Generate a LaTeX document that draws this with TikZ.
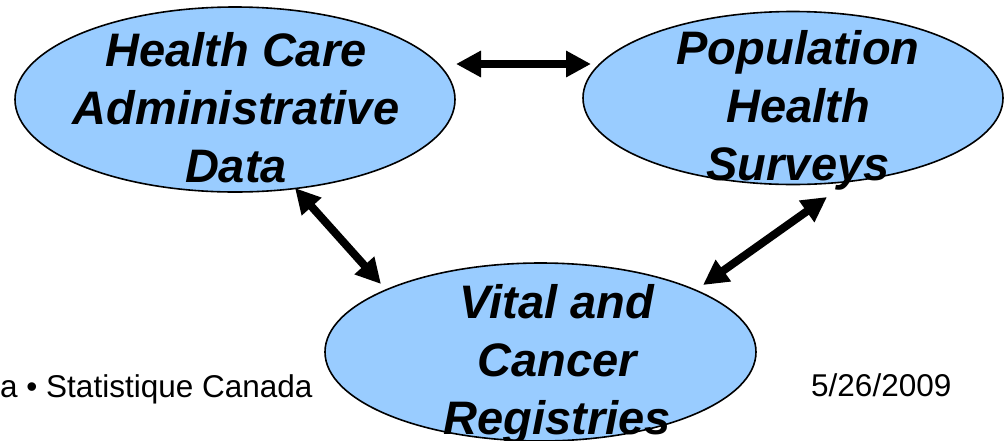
\documentclass[tikz,border=0pt]{standalone}
\usepackage{fontspec}
\setmainfont{Liberation Sans}
\usetikzlibrary{shapes.geometric,arrows.meta}
\definecolor{blobblue}{HTML}{99CCFF}
\begin{document}
\begin{tikzpicture}[x=1pt,y=-1pt,
  blob/.style={ellipse, draw=black, line width=1.6pt, fill=blobblue, inner sep=0pt},
  lbl/.style={font=\fontsize{47}{58}\selectfont\bfseries\itshape, align=center, anchor=base, inner sep=0pt},
  link/.style={line width=8pt, {Triangle[length=25pt,width=25pt]}-{Triangle[length=25pt,width=25pt]}},
  foot/.style={font=\fontsize{31.5}{36}\selectfont, anchor=base west, inner sep=0pt}]
\useasboundingbox (0,0) rectangle (1004,440);
% ellipses
\node[blob, minimum width=440pt, minimum height=185pt] (hc) at (235,99.5) {};
\node[blob, minimum width=420pt, minimum height=173pt] (pop) at (793,98) {};
\node[blob, minimum width=431pt, minimum height=178pt] (vit) at (540.5,352) {};
% labels (base = last line)
\node[lbl] (hct) at (236,182) {Health Care\\Administrative\\Data};
\node[lbl] (popt) at (798,180) {Population\\Health\\Surveys};
\node[lbl] (vitt) at (557,434) {Vital and\\Cancer\\Registries};
% arrow ends
\coordinate (hcE) at (456,64);
\coordinate (popW) at (591,64);
\coordinate (hcS) at (295,188);
\coordinate (vitNW) at (381,284);
\coordinate (popS) at (827,197);
\coordinate (vitNE) at (703,285);
\draw[link] (hcE) -- (popW);
\draw[link] (hcS) -- (vitNW);
\draw[link] (popS) -- (vitNE);
% footer
\node[foot] (org) at (0,397) {a • Statistique Canada};
\node[foot] (date) at (811,396) {5/26/2009};
\end{tikzpicture}
\end{document}
